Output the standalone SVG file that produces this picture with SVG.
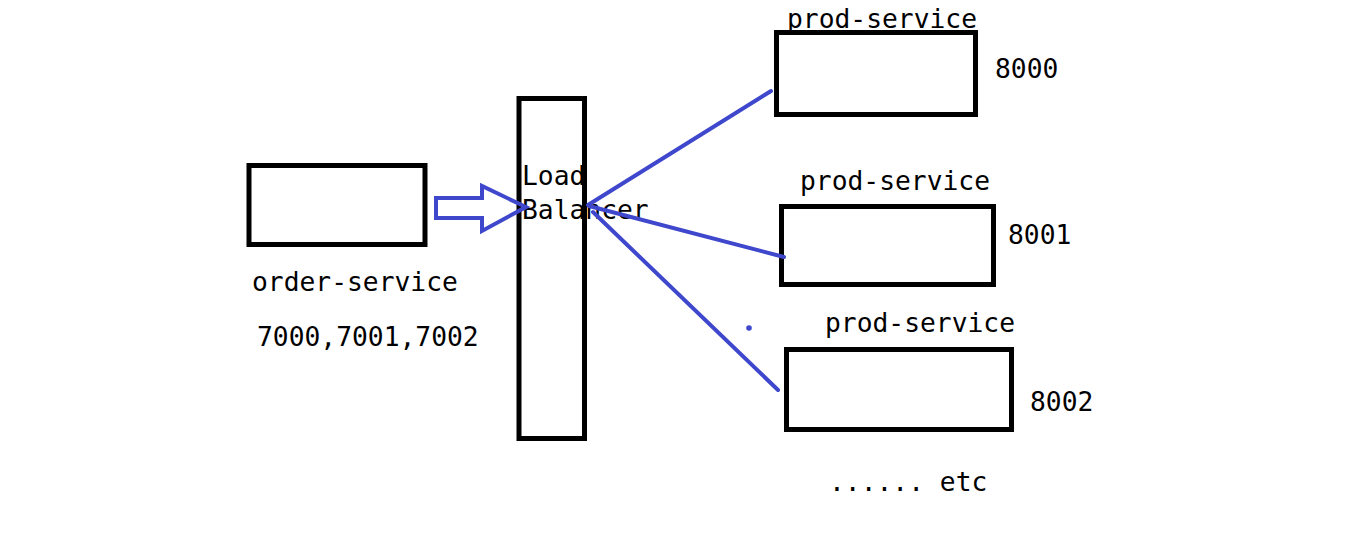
<svg xmlns="http://www.w3.org/2000/svg" width="1349" height="544" viewBox="0 0 1349 544">
<style>
.box{fill:none;stroke:#000;stroke-width:5}
.t{font-family:"DejaVu Sans Mono","Liberation Mono",monospace;font-size:26.3px;fill:#000}
.c{fill:none;stroke:#3F48CC;stroke-width:4;stroke-linecap:round;stroke-linejoin:miter}
</style>
<rect width="1349" height="544" fill="#fff"/>
<g id="order-service">
<rect class="box" x="249" y="165.5" width="176" height="79"/>
<text class="t" x="252" y="291">order-service</text>
<text class="t" x="257" y="346">7000,7001,7002</text>
</g>
<g id="load-balancer">
<rect class="box" x="519" y="98.5" width="65.5" height="340"/>
<text class="t" x="522" y="185">Load</text>
<text class="t" x="522" y="219">Balancer</text>
</g>
<g id="prod-service-1">
<rect class="box" x="776.5" y="32.5" width="199" height="82"/>
<text class="t" x="787" y="28">prod-service</text>
<text class="t" x="995" y="78">8000</text>
</g>
<g id="prod-service-2">
<rect class="box" x="781.5" y="206.5" width="212" height="78"/>
<text class="t" x="800" y="190">prod-service</text>
<text class="t" x="1008" y="244">8001</text>
</g>
<g id="prod-service-3">
<rect class="box" x="786.5" y="349.5" width="225" height="80"/>
<text class="t" x="825" y="332">prod-service</text>
<text class="t" x="1030" y="411">8002</text>
</g>
<g id="etc">
<text class="t" x="829" y="491">...... etc</text>
</g>
<g id="connectors">
<polygon class="c" points="436,198 482,198 482,186 526,207 482,231 482,218 436,218"/>
<line class="c" x1="588" y1="205" x2="771" y2="91"/>
<line class="c" x1="589" y1="206" x2="784" y2="257"/>
<line class="c" x1="593" y1="212" x2="778" y2="390"/>
<circle cx="749" cy="328" r="2.8" fill="#3F48CC"/>
</g>
</svg>
